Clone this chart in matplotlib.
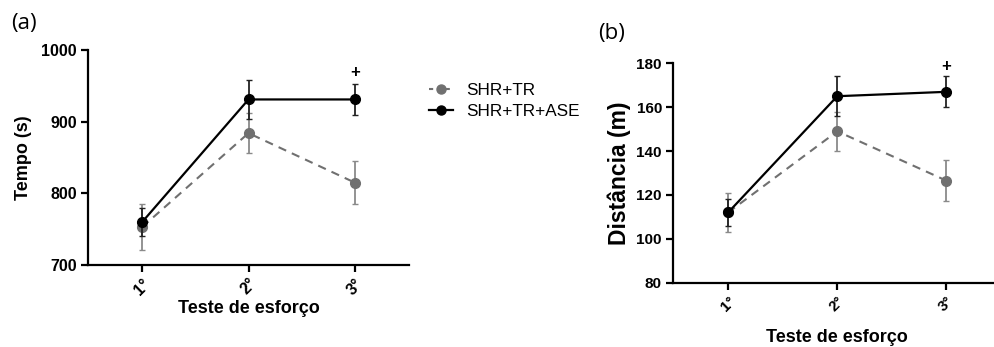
import matplotlib
matplotlib.use("Agg")
import matplotlib.pyplot as plt
from matplotlib.lines import Line2D

plt.rcParams['font.family'] = ['Liberation Sans', 'DejaVu Sans']

categories = ["1°", "2°", "3°"]
x = [1, 2, 3]

# Panel (a): Tempo (s)
tempo_tr = [753, 884, 815]
tempo_tr_err = [32, 28, 30]
tempo_ase = [760, 931, 931]
tempo_ase_err = [20, 27, 21]

# Panel (b): Distância (m)
dist_tr = [112, 149, 126.5]
dist_tr_err = [9, 9, 9.3]
dist_ase = [112, 165, 167]
dist_ase_err = [6, 9, 7]

series_labels = ["SHR+TR", "SHR+TR+ASE"]

GRAY = "#707070"
GRAY_ERR = "#8a8a8a"
BLACK = "#000000"

fig = plt.figure(figsize=(9.94, 3.47), dpi=100)

def draw(ax, tr, tr_err, ase, ase_err, ylim, yticks, xlim, tickfs):
    ax.errorbar(x, tr, yerr=tr_err, color=GRAY, ecolor=GRAY_ERR, linestyle=(0, (4, 3)),
                lw=1.5, marker='o', ms=7, capsize=2.5, elinewidth=1.3, capthick=1.0,
                clip_on=False, zorder=3)
    ax.errorbar(x, ase, yerr=ase_err, color=BLACK, ecolor="#222222", linestyle='-',
                lw=1.6, marker='o', ms=7, capsize=2.5, elinewidth=1.3, capthick=1.0,
                clip_on=False, zorder=4)
    ax.set_ylim(*ylim)
    ax.set_yticks(yticks)
    ax.set_xlim(*xlim)
    ax.set_xticks(x)
    ax.set_xticklabels(categories, rotation=45, ha='center', fontweight='bold', fontsize=tickfs)
    for lab in ax.get_yticklabels():
        lab.set_fontweight('bold')
        lab.set_fontsize(tickfs)
    for s in ['top', 'right']:
        ax.spines[s].set_visible(False)
    for s in ['left', 'bottom']:
        ax.spines[s].set_linewidth(1.6)
    ax.tick_params(width=1.6, length=5, pad=3)

ax1 = fig.add_axes([88/994, 82/347, 321/994, 215/347])
draw(ax1, tempo_tr, tempo_tr_err, tempo_ase, tempo_ase_err, (700, 1000), [700, 800, 900, 1000], (0.49, 3.51), 11.5)
ax1.set_ylabel("Tempo (s)", fontsize=13, fontweight='bold', labelpad=7)
ax1.set_xlabel("Teste de esforço", fontsize=13, fontweight='bold', labelpad=2)
ax1.text(3, 969, "+", ha='center', va='center', fontsize=12, fontweight='bold')

ax2 = fig.add_axes([673/994, 64.3/347, 328/994, 219.4/347])
draw(ax2, dist_tr, dist_tr_err, dist_ase, dist_ase_err, (80, 180), [80, 100, 120, 140, 160, 180], (0.495, 3.5), 11)
ax2.set_ylabel("Distância (m)", fontsize=16.5, fontweight='bold', labelpad=4)
ax2.set_xlabel("Teste de esforço", fontsize=13, fontweight='bold', labelpad=11)
ax2.text(3, 178.5, "+", ha='center', va='center', fontsize=12, fontweight='bold')

fig.text(11/994, 1 - 23/347, "(a)", fontsize=16, ha='left', va='center', family=['Open Sans', 'DejaVu Sans'])
fig.text(598/994, 1 - 33/347, "(b)", fontsize=16, ha='left', va='center', family=['Open Sans', 'DejaVu Sans'])

handles = [
    Line2D([0], [0], color=GRAY, linestyle=(0, (2, 2)), lw=1.5, marker='o', ms=6.5),
    Line2D([0], [0], color=BLACK, linestyle='-', lw=1.6, marker='o', ms=6.5),
]
fig.legend(handles, series_labels, loc='center left', bbox_to_anchor=(414/994, 1 - 101/347),
           frameon=False, fontsize=12.3, handlelength=1.4, handletextpad=0.75, labelspacing=0.3)

fig.savefig("out.png", dpi=100)
